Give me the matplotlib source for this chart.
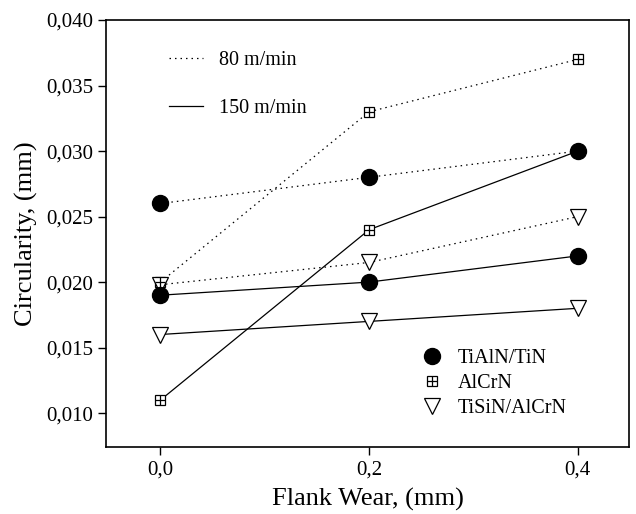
import numpy as np
import matplotlib
matplotlib.use('Agg')
import matplotlib.pyplot as plt
from matplotlib.lines import Line2D

# Datos
desgaste = [0.0, 0.2, 0.4]
recubrimientos = ['TiAlN/TiN', 'AlCrN', 'TiSiN/AlCrN']
velocidades = ['80 m/min', '150 m/min']

tialn_80 = [0.026, 0.028, 0.030]
tialn_150 = [0.019, 0.020, 0.022]
alcrn_80 = [0.020, 0.033, 0.037]
alcrn_150 = [0.011, 0.024, 0.030]
tisin_80 = [0.0198, 0.0215, 0.025]
tisin_150 = [0.016, 0.017, 0.018]

y_ticks = [0.010, 0.015, 0.020, 0.025, 0.030, 0.035, 0.040]
x_ticks = [0.0, 0.2, 0.4]

plt.rcParams['font.family'] = ['Liberation Serif', 'DejaVu Serif']

fig = plt.figure(figsize=(6.36, 5.14), dpi=100)
ax = fig.add_axes([0.167, 0.130, 0.822, 0.831])

punteado = (0, (1.2, 3.2))
lw = 0.9

def curva(y, estilo, marcador):
    ax.plot(desgaste, y, color='black', lw=lw, linestyle=estilo, zorder=2)
    if marcador == 'circulo':
        ax.plot(desgaste, y, 'o', ms=11.5, mfc='black', mec='black', ls='none', zorder=5)
    elif marcador == 'cuadro':
        ax.plot(desgaste, y, 's', ms=7.5, mfc='white', mec='black', mew=0.9, ls='none', zorder=3)
        ax.plot(desgaste, y, '+', ms=7.5, mec='black', mew=0.9, ls='none', zorder=4)
    else:
        ax.plot(desgaste, y, 'v', ms=11.5, mfc='white', mec='black', mew=0.9, ls='none', zorder=3)

curva(tialn_80, punteado, 'circulo')
curva(alcrn_80, punteado, 'cuadro')
curva(tisin_80, punteado, 'triangulo')
curva(tialn_150, '-', 'circulo')
curva(alcrn_150, '-', 'cuadro')
curva(tisin_150, '-', 'triangulo')

ax.set_xlim(-0.052, 0.449)
ax.set_ylim(0.0074, 0.040)
ax.set_xticks(x_ticks)
ax.set_yticks(y_ticks)
ax.set_xticklabels([f'{v:.1f}'.replace('.', ',') for v in x_ticks])
ax.set_yticklabels([f'{v:.3f}'.replace('.', ',') for v in y_ticks])
ax.tick_params(direction='out', length=6, width=1, labelsize=15, top=False, right=False)
for s in ax.spines.values():
    s.set_linewidth(1.2)

ax.set_xlabel('Flank Wear, (mm)', fontsize=19, labelpad=6)
ax.set_ylabel('Circularity, (mm)', fontsize=19, labelpad=6)

# Leyenda de velocidades
h_vel = [Line2D([], [], color='black', lw=lw, linestyle=punteado),
         Line2D([], [], color='black', lw=lw, linestyle='-')]
leg1 = ax.legend(h_vel, velocidades, loc='upper left', bbox_to_anchor=(0.085, 0.97),
                 frameon=False, fontsize=14.5, handlelength=1.7, labelspacing=1.45)
ax.add_artist(leg1)

# Leyenda de recubrimientos
h_circ = Line2D([], [], marker='o', ms=11.5, mfc='black', mec='black', ls='none')
h_cua = (Line2D([], [], marker='s', ms=7.5, mfc='white', mec='black', mew=0.9, ls='none'),
         Line2D([], [], marker='+', ms=7.5, mec='black', mew=0.9, ls='none'))
h_tri = Line2D([], [], marker='v', ms=11.5, mfc='white', mec='black', mew=0.9, ls='none')
ax.legend([h_circ, h_cua, h_tri], recubrimientos, loc='lower left',
          bbox_to_anchor=(0.565, 0.025), frameon=False, fontsize=14.5,
          handlelength=1.2, labelspacing=0.3, handletextpad=0.7)

fig.savefig('out.png', dpi=100)
